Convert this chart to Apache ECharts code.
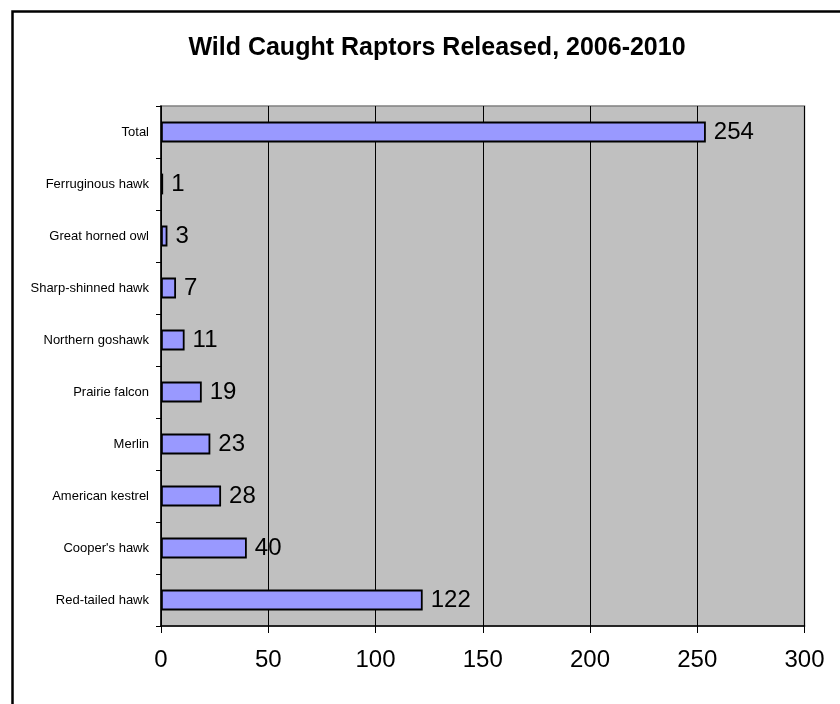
<!DOCTYPE html>
<html>
<head>
<meta charset="utf-8">
<style>
  html, body { margin: 0; padding: 0; background: #ffffff; }
  #chart { width: 840px; height: 704px; }
</style>
<script src="https://cdn.jsdelivr.net/npm/echarts@6/dist/echarts.min.js"></script>
</head>
<body>
<div id="chart"></div>
<script>
// Species, listed bottom to top along the category axis
const species = [
  'Red-tailed hawk',
  "Cooper's hawk",
  'American kestrel',
  'Merlin',
  'Prairie falcon',
  'Northern goshawk',
  'Sharp-shinned hawk',
  'Great horned owl',
  'Ferruginous hawk',
  'Total'
];
// Birds released per species, 2006-2010
const released = [122, 40, 28, 23, 19, 11, 7, 3, 1, 254];
// Value axis ticks
const xTicks = [0, 50, 100, 150, 200, 250, 300];

const chart = echarts.init(document.getElementById('chart'), null, { renderer: 'canvas' });

const option = {
  backgroundColor: '#ffffff',
  animation: false,
  textStyle: { fontFamily: 'Liberation Sans, Arial, sans-serif' },
  title: {
    text: 'Wild Caught Raptors Released, 2006-2010',
    left: 432,
    top: 31,
    textAlign: 'center',
    textStyle: {
      fontFamily: 'Liberation Sans, Arial, sans-serif',
      fontSize: 25,
      fontWeight: 'bold',
      color: '#000000'
    }
  },
  graphic: [
    {
      // chart frame
      type: 'rect',
      left: 10,
      top: 9,
      shape: { width: 860, height: 720 },
      style: { fill: null, stroke: '#000000', lineWidth: 2.5 },
      silent: true,
      z: 100
    }
  ],
  grid: {
    left: 161,
    top: 106,
    right: 35.5,
    bottom: 78,
    show: true,
    backgroundColor: '#c0c0c0',
    borderColor: '#808080',
    borderWidth: 1.5
  },
  xAxis: {
    type: 'value',
    min: xTicks[0],
    max: xTicks[xTicks.length - 1],
    interval: xTicks[1] - xTicks[0],
    axisLine: { show: true, onZero: false, lineStyle: { color: '#000000', width: 1.5 } },
    axisTick: { show: true, length: 7, lineStyle: { color: '#000000', width: 1 } },
    axisLabel: {
      color: '#000000',
      fontSize: 24,
      margin: 22,
      fontFamily: 'Liberation Sans, Arial, sans-serif'
    },
    splitLine: { show: true, lineStyle: { color: '#000000', width: 1 } }
  },
  yAxis: {
    type: 'category',
    data: species,
    axisLine: { show: true, lineStyle: { color: '#000000', width: 1.5 } },
    axisTick: { show: true, length: 5, alignWithLabel: false, lineStyle: { color: '#000000', width: 1 } },
    axisLabel: {
      color: '#000000',
      fontSize: 13,
      margin: 12,
      fontFamily: 'Liberation Sans, Arial, sans-serif'
    },
    splitLine: { show: false }
  },
  series: [
    {
      type: 'bar',
      data: released,
      barCategoryGap: '60%',
      itemStyle: {
        color: '#9999ff',
        borderColor: '#000000',
        borderWidth: 1.8
      },
      label: {
        show: true,
        position: 'right',
        distance: 8,
        color: '#000000',
        fontSize: 24,
        fontFamily: 'Liberation Sans, Arial, sans-serif'
      }
    }
  ]
};

chart.setOption(option);
</script>
</body>
</html>
